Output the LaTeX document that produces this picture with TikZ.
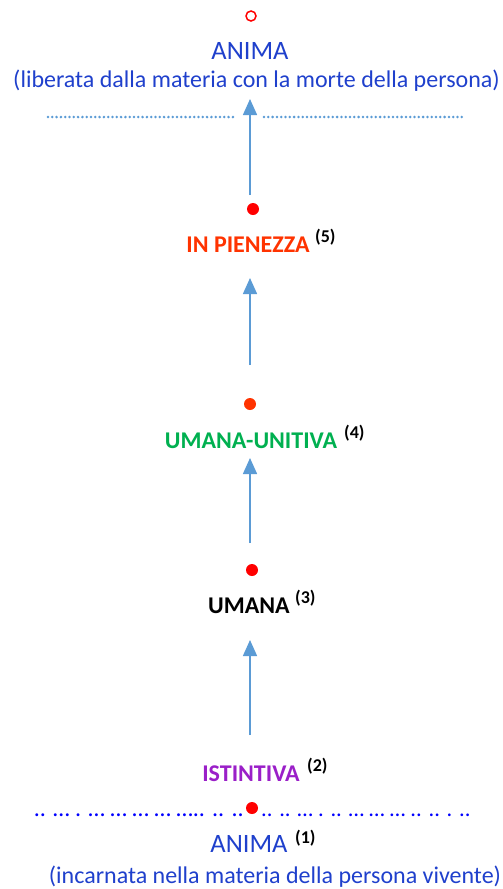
\documentclass[tikz,border=0pt]{standalone}
\usepackage{fontspec}
\setmainfont{Carlito}
\usepackage[dvipsnames]{xcolor}
\usetikzlibrary{arrows.meta}
\definecolor{animablu}{HTML}{1F40CC}
\definecolor{frecciablu}{HTML}{5B9BD5}
\definecolor{puntiblu}{HTML}{0000FF}
\definecolor{pienezza}{HTML}{FF3300}
\definecolor{unitiva}{HTML}{00B050}
\definecolor{istintiva}{HTML}{9A1FC8}

\tikzset{
  anima/.style={text=animablu, font=\fontsize{24}{28}\selectfont, inner sep=0pt},
  livello/.style={font=\fontsize{24}{28}\selectfont\bfseries, inner sep=0pt},
  nota/.style={font=\fontsize{18}{21}\selectfont\bfseries, inner sep=0pt, anchor=west},
  punto/.style={circle, fill=red, inner sep=0pt, minimum size=12pt},
  puntini/.style={text=puntiblu, inner sep=0pt, text height=4pt, text depth=0pt},
  freccia/.style={draw=frecciablu, line width=1.5pt, -{Triangle[width=14pt,length=16pt]}}
}

\begin{document}
\begin{tikzpicture}[x=1pt, y=-1pt]
        \useasboundingbox (0, 0) rectangle (503, 889);
        % anima liberata
        \node[circle, draw=red, line width=1.5pt, inner sep=0pt, minimum size=10pt] (vuoto) at (251, 16) {};
        \node[anima, font=\fontsize{26.5}{30}\selectfont] (animasu) at (250, 51) {ANIMA};
        \node[anima] (liberata) at (256.5, 81) {(liberata dalla materia con la morte della persona)};
        \draw[frecciablu, line width=2.8pt, dash pattern=on 0pt off 4.3pt, line cap=round] (48, 117) -- (234, 117);
        \draw[frecciablu, line width=2.8pt, dash pattern=on 0pt off 4.3pt, line cap=round] (264, 117) -- (465, 117);
        % livello 5
        \node[punto] (p5) at (253, 209) {};
        \node[livello, text=pienezza] (pienezza) at (248, 245) {IN PIENEZZA};
        \node[nota] at (315, 237) {(5)};
        % livello 4
        \node[punto, fill=pienezza] (p4) at (250, 404) {};
        \node[livello, text=unitiva] (unitiva) at (251, 441) {UMANA-UNITIVA};
        \node[nota] at (344, 433) {(4)};
        % livello 3
        \node[punto] (p3) at (252, 570) {};
        \node[livello] (umana) at (249, 606) {UMANA};
        \node[nota] at (295, 598) {(3)};
        % livello 2
        \node[livello, text=istintiva] (istintiva) at (251, 774) {ISTINTIVA};
        \node[nota] at (307, 766) {(2)};
        % anima incarnata
        \node[puntini, font=\fontsize{24}{28}\selectfont, anchor=base east] (puntisx) at (244, 816) {.. … . … … …  … ….. .. ..};
        \node[puntini, font=\fontsize{22.5}{26}\selectfont, anchor=base west] (puntidx) at (261, 816) {.. .. … . .. … … … .. .. . ..};
        \node[punto] (p1) at (252, 808) {};
        \node[anima, font=\fontsize{26.5}{30}\selectfont] (animagiu) at (249, 844) {ANIMA};
        \node[nota] at (295, 838) {(1)};
        \node[anima] (incarnata) at (275, 877) {(incarnata nella materia della persona vivente)};
        % frecce
        \coordinate (f1) at (250, 735);
        \coordinate (f2) at (250, 543);
        \coordinate (f3) at (250, 365);
        \coordinate (f4) at (250, 195);
        \draw[freccia] (f1) -- (250, 640);
        \draw[freccia] (f2) -- (250, 458);
        \draw[freccia] (f3) -- (250, 278);
        \draw[freccia] (f4) -- (250, 99);
    \end{tikzpicture}
\end{document}
